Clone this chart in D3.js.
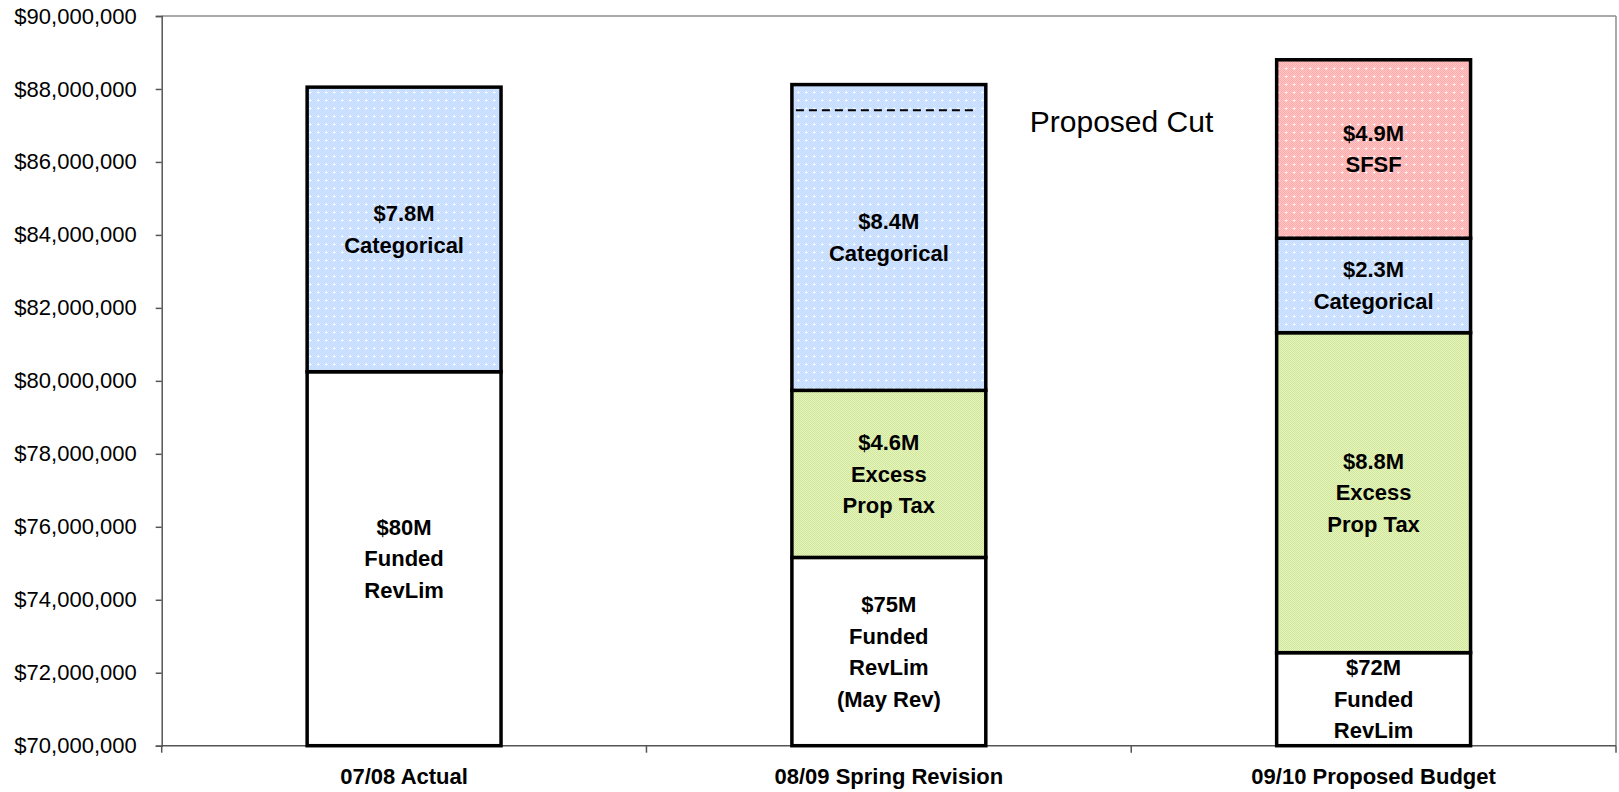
<!DOCTYPE html>
<html>
<head>
<meta charset="utf-8">
<script src="https://cdn.jsdelivr.net/npm/d3@7"></script>
<style>
  body { margin: 0; background: #fff; }
  svg text { font-family: "Liberation Sans", Arial, sans-serif; }
</style>
</head>
<body>
<div id="chart"></div>
<script>
// values in millions of dollars
const categories = ['07/08 Actual', '08/09 Spring Revision', '09/10 Proposed Budget'];
const funded = [80.25, 75.16, 72.55];
const excessPropTax = [0, 4.58, 8.77];
const categorical = [7.8, 8.38, 2.59];
const sfsf = [0, 0, 4.89];

const fundedLabels = [['$80M', 'Funded', 'RevLim'], ['$75M', 'Funded', 'RevLim', '(May Rev)'], ['$72M', 'Funded', 'RevLim']];
const excessLabels = [null, ['$4.6M', 'Excess', 'Prop Tax'], ['$8.8M', 'Excess', 'Prop Tax']];
const categoricalLabels = [['$7.8M', 'Categorical'], ['$8.4M', 'Categorical'], ['$2.3M', 'Categorical']];
const sfsfLabels = [null, null, ['$4.9M', 'SFSF']];

const yTicks = [70, 72, 74, 76, 78, 80, 82, 84, 86, 88, 90];
const cutCategory = '08/09 Spring Revision';
const cutValue = 87.42;
const cutText = 'Proposed Cut';

const W = 1619, H = 792;
const MARGIN = {TOP: 16, LEFT: 161.7, RIGHT: 3, BOTTOM: 46.3};
const WIDTH = W - MARGIN.LEFT - MARGIN.RIGHT;
const HEIGHT = H - MARGIN.TOP - MARGIN.BOTTOM;

const svg = d3.select('#chart').append('svg')
  .attr('width', W).attr('height', H);

// fill patterns: checker of colour + white, with white crosses
const defs = svg.append('defs');
function dotPattern(id, light, dark, crosses) {
  const p = defs.append('pattern').attr('id', id)
    .attr('patternUnits', 'userSpaceOnUse')
    .attr('width', 8).attr('height', 8);
  p.append('rect').attr('width', 8).attr('height', 8).attr('fill', light);
  for (let i = 0; i < 8; i++) {
    for (let j = 0; j < 8; j++) {
      if ((i + j) % 2 === 0) p.append('rect').attr('x', i).attr('y', j).attr('width', 1).attr('height', 1).attr('fill', dark);
    }
  }
  if (crosses) {
    p.append('rect').attr('x', 3).attr('y', 4).attr('width', 3).attr('height', 1).attr('fill', '#fff');
    p.append('rect').attr('x', 4).attr('y', 3).attr('width', 1).attr('height', 3).attr('fill', '#fff');
  }
}
dotPattern('pBlue', '#e3eeff', '#b2d1ff', true);
dotPattern('pGreen', '#f6fbe8', '#c0e070', false);
dotPattern('pRed', '#ffd6d6', '#ff9a9a', true);

const g = svg.append('g').attr('transform', `translate(${MARGIN.LEFT}, ${MARGIN.TOP})`);

const data = categories.map((c, i) => ({
  cat: c, funded: funded[i], excess: excessPropTax[i], categorical: categorical[i], sfsf: sfsf[i]
}));
const keys = ['funded', 'excess', 'categorical', 'sfsf'];
const fills = {funded: '#ffffff', excess: 'url(#pGreen)', categorical: 'url(#pBlue)', sfsf: 'url(#pRed)'};
const labelSets = {funded: fundedLabels, excess: excessLabels, categorical: categoricalLabels, sfsf: sfsfLabels};

const series = d3.stack().keys(keys)(data);

const x = d3.scaleBand()
  .domain(categories)
  .range([0, WIDTH])
  .paddingInner(0.6)
  .paddingOuter(0.3);
const step = x.step();

const y = d3.scaleLinear()
  .domain([70, 90])
  .range([HEIGHT, 0]);

// plot border (top & right)
g.append('line').attr('x1', 0).attr('x2', WIDTH).attr('y1', 0).attr('y2', 0)
  .attr('stroke', '#8c8c8c').attr('stroke-width', 1.5);
g.append('line').attr('x1', WIDTH).attr('x2', WIDTH).attr('y1', 0).attr('y2', HEIGHT)
  .attr('stroke', '#8c8c8c').attr('stroke-width', 1.5);

// y axis
const yAxis = g.append('g')
  .call(d3.axisLeft(y).tickValues(yTicks).tickSize(6).tickPadding(19)
    .tickFormat(d => '$' + d3.format(',')(d * 1e6)));
yAxis.select('.domain').attr('stroke', '#555').attr('stroke-width', 1.5);
yAxis.selectAll('.tick line').attr('stroke', '#555').attr('stroke-width', 1.5);
yAxis.selectAll('.tick text').attr('font-size', 22).attr('fill', '#000')
  .attr('font-family', '"Liberation Sans", Arial, sans-serif');

// x axis: ticks at category boundaries
const xAxisG = g.append('g').attr('transform', `translate(0, ${HEIGHT})`);
xAxisG.append('line').attr('x1', 0).attr('x2', WIDTH).attr('stroke', '#555').attr('stroke-width', 1.5);
xAxisG.selectAll('.bound').data(d3.range(categories.length + 1)).enter().append('line')
  .attr('x1', i => i * step).attr('x2', i => i * step)
  .attr('y1', 0).attr('y2', 7)
  .attr('stroke', '#555').attr('stroke-width', 1.5);
xAxisG.selectAll('.catlabel').data(categories).enter().append('text')
  .attr('x', d => x(d) + x.bandwidth() / 2)
  .attr('y', 38)
  .attr('text-anchor', 'middle')
  .attr('font-size', 22).attr('font-weight', 'bold')
  .text(d => d);

// bars
const y0 = y.domain()[0];
series.forEach(s => {
  const key = s.key;
  const segs = s.map((d, i) => ({key, i, cat: categories[i], lo: Math.max(d[0], y0), hi: d[1]}))
    .filter(d => d.hi - d.lo > 0);

  g.selectAll('.seg-' + key).data(segs).enter().append('rect')
    .attr('x', d => x(d.cat))
    .attr('y', d => y(d.hi))
    .attr('width', x.bandwidth())
    .attr('height', d => y(d.lo) - y(d.hi))
    .attr('fill', fills[key])
    .attr('stroke', '#000')
    .attr('stroke-width', 3.5);
});

// cut line
const cx = x(cutCategory);
g.append('line')
  .attr('x1', cx + 4).attr('x2', cx + x.bandwidth() - 8)
  .attr('y1', y(cutValue)).attr('y2', y(cutValue))
  .attr('stroke', '#000').attr('stroke-width', 2)
  .attr('stroke-dasharray', '8,5');
g.append('text')
  .attr('x', cx + x.bandwidth() + 44)
  .attr('y', y(cutValue) + 22)
  .attr('font-size', 30)
  .text(cutText);

// segment labels
const LINE = 31.5;
series.forEach(s => {
  const key = s.key;
  s.forEach((d, i) => {
    const lines = labelSets[key][i];
    if (!lines) return;
    const lo = Math.max(d[0], y0);
    const mid = (y(lo) + y(d[1])) / 2;
    const startY = mid - (lines.length - 1) * LINE / 2;
    const t = g.append('text')
      .attr('text-anchor', 'middle')
      .attr('font-size', 22).attr('font-weight', 'bold');
    lines.forEach((ln, k) => {
      t.append('tspan')
        .attr('x', x(categories[i]) + x.bandwidth() / 2)
        .attr('y', startY + k * LINE)
        .attr('dy', '0.35em')
        .text(ln);
    });
  });
});
</script>
</body>
</html>
